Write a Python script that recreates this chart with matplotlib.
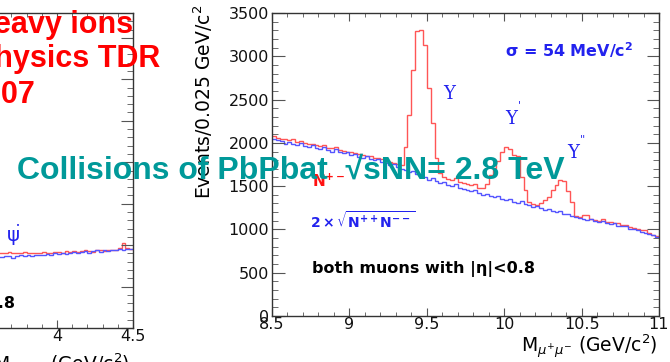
import matplotlib
matplotlib.use("Agg")
import matplotlib.pyplot as plt
import numpy as np
from matplotlib.ticker import MultipleLocator

# ---------------- data ----------------
bin_lo = 8.5
bin_width = 0.025
# like-sign background 2*sqrt(N++ N--)
blue_counts = [
    2045, 2030, 2020, 1990, 2010, 1985, 1970, 1995, 1960, 1950,
    1975, 1940, 1930, 1950, 1915, 1900, 1925, 1890, 1880, 1895,
    1860, 1870, 1840, 1830, 1850, 1810, 1800, 1815, 1780, 1770,
    1745, 1760, 1720, 1700, 1690, 1665, 1680, 1640, 1620, 1600,
    1575, 1590, 1555, 1535, 1545, 1510, 1500, 1520, 1480, 1465,
    1450, 1440, 1455, 1420, 1400, 1410, 1385, 1370, 1390, 1355,
    1340, 1350, 1320, 1310, 1325, 1290, 1280, 1260, 1270, 1245,
    1225, 1240, 1215, 1200, 1210, 1180, 1175, 1160, 1140, 1135,
    1120, 1110, 1125, 1095, 1085, 1100, 1070, 1060, 1070, 1045,
    1035, 1040, 1010, 1000, 990, 975, 960, 945, 930, 915,
]
# opposite-sign N+-
red_counts = [
    2075, 2060, 2045, 2040, 2030, 2050, 2010, 2020, 2000, 1985,
    1990, 1975, 1960, 1970, 1945, 1935, 1950, 1920, 1910, 1900,
    1890, 1880, 1875, 1860, 1850, 1845, 1830, 1820, 1810, 1790,
    1780, 1765, 1760, 1750, 1950, 2320, 2840, 3290, 3300, 3130,
    2630, 2230, 1820, 1650, 1610, 1580, 1575, 1590, 1550, 1540,
    1520, 1515, 1530, 1480, 1475, 1530, 1630, 1705, 1790, 1900,
    1955, 1930, 1860, 1850, 1600, 1450, 1320, 1295, 1280, 1300,
    1340, 1380, 1450, 1510, 1570, 1565, 1440, 1320, 1150, 1145,
    1170, 1165, 1125, 1110, 1100, 1115, 1090, 1085, 1080, 1070,
    1050, 1055, 1030, 1020, 1000, 990, 995, 960, 940, 925,
]
x_ticks = [8.5, 9, 9.5, 10, 10.5, 11]
y_ticks = [0, 500, 1000, 1500, 2000, 2500, 3000, 3500]

# left (J/psi) panel, only its right end is visible
left_lo = 3.6
left_blue = [860, 855, 870, 865, 850, 870, 875, 865, 880, 870, 885, 880,
             875, 890, 885, 900, 890, 905, 895, 910, 920, 905, 915, 925,
             910, 930, 935, 920, 940, 930, 945, 935, 950, 940, 955, 950]
left_red = [905, 910, 900, 915, 905, 910, 900, 915, 905, 900, 910, 905,
            915, 910, 905, 915, 920, 910, 925, 915, 930, 920, 925, 935,
            930, 920, 940, 935, 930, 945, 940, 935, 960, 1025, 960, 955]
left_xticks = [2.5, 3, 3.5, 4, 4.5]

RED = "#ff5555"
BLUE = "#5555ff"
LBLUE = "#2222ee"
W, H = 670, 362
fig = plt.figure(figsize=(W / 100, H / 100), dpi=100)
fig.patch.set_facecolor("white")


def rect(l, t, r, b):
    return [l / W, 1 - b / H, (r - l) / W, (b - t) / H]


def style(ax):
    for s in ax.spines.values():
        s.set_color("#333333")
        s.set_linewidth(1.0)
    ax.tick_params(which="both", direction="in", top=True, right=True,
                   color="#555555", labelsize=11.5, labelcolor="#111111")
    ax.tick_params(axis="x", which="major", length=5.5, pad=1)
    ax.tick_params(axis="x", which="minor", length=3)
    ax.tick_params(axis="y", which="major", length=9, pad=2)
    ax.tick_params(axis="y", which="minor", length=4.5)


XLAB = r"M$_{\mu^{+}\mu^{-}}$ (GeV/c$^{2}$)"

# ---------- left panel ----------
axl = fig.add_axes(rect(-247, 13, 133, 328))
n = len(left_blue)
le = left_lo + bin_width * np.arange(n + 1)
axl.stairs(left_red, le, color=RED, lw=1.0, baseline=None)
axl.stairs(left_blue, le, color=BLUE, lw=1.0, baseline=None)
axl.set_xlim(2.0, 4.5)
axl.set_ylim(0, 3800)
axl.set_xticks(left_xticks)
axl.set_xticklabels([str(v) for v in left_xticks])
axl.xaxis.set_minor_locator(MultipleLocator(0.1))
axl.yaxis.set_major_locator(MultipleLocator(500))
axl.yaxis.set_minor_locator(MultipleLocator(100))
axl.set_yticklabels([])
style(axl)
axl.set_xlabel(XLAB, fontsize=13.5, loc="right")
axl.xaxis.set_label_coords(0.992, -0.076)
axl.text(3.71, 1000, "ψ", color=LBLUE, fontsize=14, ha="center", va="bottom")
axl.text(3.745, 1230, "•", color=LBLUE, fontsize=5, ha="center", va="center")
axl.text(3.724, 241, "both muons with |η|<0.8", fontsize=11.5,
         fontweight="bold", ha="right", va="baseline")

# ---------- right panel ----------
ax = fig.add_axes(rect(272, 13, 659, 316))
edges = bin_lo + bin_width * np.arange(len(red_counts) + 1)
ax.stairs(red_counts, edges, color=RED, lw=1.0, baseline=None)
ax.stairs(blue_counts, edges, color=BLUE, lw=1.0, baseline=None)
ax.set_xlim(8.5, 11)
ax.set_ylim(0, 3500)
ax.set_xticks(x_ticks)
ax.set_xticklabels(["8.5", "9", "9.5", "10", "10.5", "11"])
ax.set_yticks(y_ticks)
ax.xaxis.set_minor_locator(MultipleLocator(0.1))
ax.yaxis.set_minor_locator(MultipleLocator(100))
style(ax)
ax.set_ylabel(r"Events/0.025 GeV/c$^{2}$", fontsize=13.5, loc="top")
ax.yaxis.set_label_coords(-0.147, 1.026)
ax.set_xlabel(XLAB, fontsize=13.5, loc="right")
ax.xaxis.set_label_coords(0.997, -0.056)

ax.text(10.005, 2990, r"$\mathbf{\sigma}$ = 54 MeV/c$^{\mathbf{2}}$", color=LBLUE,
        fontsize=11.5, fontweight="bold", ha="left", va="baseline")
ax.text(9.643, 2564, "Υ", color=LBLUE, fontsize=13, family="DejaVu Serif",
        ha="center", va="center")
ax.text(10.044, 2275, "Υ", color=LBLUE, fontsize=13, family="DejaVu Serif",
        ha="center", va="center")
ax.text(10.10, 2440, "'", color=LBLUE, fontsize=8, ha="center", va="center")
ax.text(10.444, 1882, "Υ", color=LBLUE, fontsize=13, family="DejaVu Serif",
        ha="center", va="center")
ax.text(10.51, 2040, "''", color=LBLUE, fontsize=8, ha="center", va="center")
ax.text(8.758, 1490, r"$\mathbf{N^{+-}}$", color="#ff1111", fontsize=11,
        ha="left", va="baseline")
ax.text(8.745, 1016, r"$\mathbf{2\times\sqrt{N^{++}N^{--}}}$", color=LBLUE,
        fontsize=10, ha="left", va="baseline")
ax.text(8.758, 497, "both muons with |η|<0.8", fontsize=11.5,
        fontweight="bold", ha="left", va="baseline")

# ---------- slide overlays ----------
fam = ["Liberation Sans", "DejaVu Sans"]
for txt, xr, yb in [("Heavy ions", 133, 33), ("Physics TDR", 160, 67),
                    ("2007", 35, 103)]:
    fig.text(xr / W, 1 - yb / H, txt, color="#ff0000", fontsize=22,
             fontweight="bold", family=fam, ha="right", va="baseline")
fig.text(17 / W, 1 - 179 / H, "Collisions of PbPbat  \u221asNN= 2.8 TeV",
         color="#009999", fontsize=23, fontweight="bold", family=fam,
         ha="left", va="baseline")

fig.savefig("out.png", dpi=100)
